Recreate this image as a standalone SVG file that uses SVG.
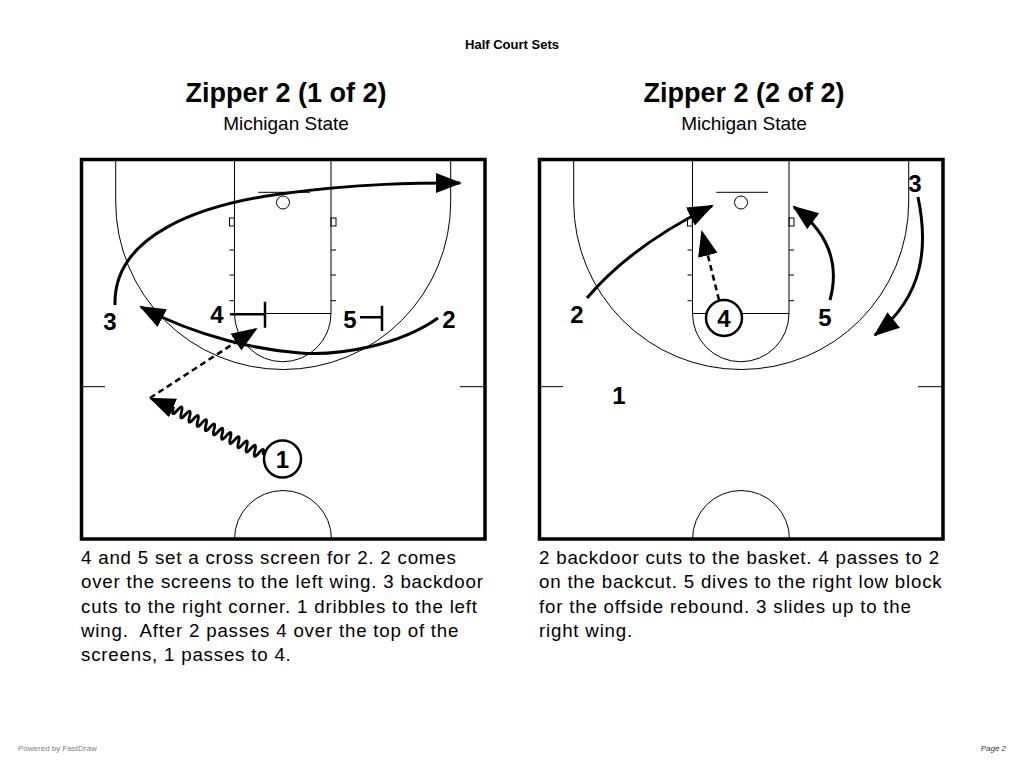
<svg xmlns="http://www.w3.org/2000/svg" xmlns:xlink="http://www.w3.org/1999/xlink" width="1024" height="768" viewBox="0 0 1024 768">
<style>
.ln{fill:none;stroke:#000;stroke-width:1}
.bd{fill:none;stroke:#000;stroke-width:3.5}
.cut{fill:none;stroke:#000;stroke-width:3;marker-end:url(#ah)}
.pass{fill:none;stroke:#000;stroke-width:2.5;stroke-dasharray:6 4;marker-end:url(#ah)}
.drib{fill:none;stroke:#000;stroke-width:2.8;marker-end:url(#ah)}
.scr{fill:none;stroke:#000;stroke-width:2.5}
.pn{font-family:"Liberation Sans",Arial,sans-serif;font-weight:bold;font-size:24px;text-anchor:middle;fill:#000}
.pc{fill:#fff;stroke:#000;stroke-width:2.5}
.title{font-family:"Liberation Sans",Arial,sans-serif;font-weight:bold;font-size:27px;text-anchor:middle}
.sub{font-family:"Liberation Sans",Arial,sans-serif;font-size:19px;text-anchor:middle}
.desc{font-family:"Liberation Sans",Arial,sans-serif;font-size:18.7px;letter-spacing:0.8px}
</style>
<defs>
<marker id="ah" markerUnits="userSpaceOnUse" markerWidth="26" markerHeight="22" viewBox="0 0 26 22" refX="24" refY="11" orient="auto">
<path d="M0,1 L26,11 L0,21 Z" fill="#000"/>
</marker>
<g id="court">
<rect class="bd" x="81.5" y="159.5" width="403.5" height="379.5"/>
<path class="ln" d="M234.5,159.5 V313.5 H331 V159.5"/>
<path class="ln" d="M234.5,313.5 A48.25,48.25 0 0 0 331,313.5"/>
<path class="ln" d="M115.7,159.5 V202 A167.5,167.5 0 0 0 450.7,202 V159.5"/>
<path class="ln" d="M258.3,192.3 H310"/>
<circle class="ln" cx="283" cy="202.5" r="6.5"/>
<rect class="ln" x="229.5" y="218" width="4.8" height="8"/>
<rect class="ln" x="331" y="218" width="5" height="8"/>
<path class="ln" d="M229.5,250 H234.5 M229.5,275 H234.5 M229.5,300.7 H234.5 M331,250 H336 M331,275 H336 M331,300.7 H336"/>
<path class="ln" d="M81.5,386.7 H105 M460,386.7 H485"/>
<path class="ln" d="M234.5,539 A48.5,48.5 0 0 1 331.5,539"/>
</g>
</defs>
<rect width="1024" height="768" fill="#fff"/>
<text x="512" y="49" font-family="Liberation Sans, Arial, sans-serif" font-weight="bold" font-size="13" text-anchor="middle">Half Court Sets</text>

<g id="diagram-1">
<text class="title" x="286" y="102">Zipper 2 (1 of 2)</text>
<text class="sub" x="286" y="130">Michigan State</text>
<use xlink:href="#court"/>
<g id="connectors-1">
<path id="cut-3" class="cut" d="M115,305 C113,235 200,205 280,194 S420,183 460,183"/>
<path id="cut-2" class="cut" d="M438,318 C400,345 340,356 300,353 S200,338 141,307"/>
<path id="pass-1-4" class="pass" d="M150,398 L256,329"/>
<path id="dribble-1" class="drib" d="M263,455 q2.59,-9.94 -4.08,-2.13 t-4.08,-2.13 t-4.08,-2.13 t-4.08,-2.13 t-4.08,-2.13 t-4.08,-2.13 t-4.08,-2.13 t-4.08,-2.13 t-4.08,-2.13 t-4.08,-2.13 t-4.08,-2.13 t-4.08,-2.13 t-4.08,-2.13 t-4.08,-2.13 t-4.08,-2.13 t-4.08,-2.13 t-4.08,-2.13 t-4.08,-2.13 t-4.08,-2.13 t-4.08,-2.13 t-4.08,-2.13 t-4.08,-2.13 L151,398.5"/>
<path id="screen-4" class="scr" d="M230,314.3 H265 M265,301.7 V327.7"/>
<path id="screen-5" class="scr" d="M360,317.3 H382 M382,305.7 V331"/>
</g>
<g id="p1-3"><text class="pn" x="110" y="330">3</text></g>
<g id="p1-4"><text class="pn" x="217" y="323">4</text></g>
<g id="p1-5"><text class="pn" x="350" y="328">5</text></g>
<g id="p1-2"><text class="pn" x="449" y="328">2</text></g>
<g id="p1-1"><circle class="pc" cx="282.5" cy="459" r="18.5"/><text class="pn" x="282.5" y="468">1</text></g>
<text class="desc" x="81" y="564">4 and 5 set a cross screen for 2. 2 comes</text>
<text class="desc" x="81" y="588">over the screens to the left wing. 3 backdoor</text>
<text class="desc" x="81" y="613">cuts to the right corner. 1 dribbles to the left</text>
<text class="desc" x="81" y="637">wing.&#160; After 2 passes 4 over the top of the</text>
<text class="desc" x="81" y="661">screens, 1 passes to 4.</text>
</g>

<g id="diagram-2">
<text class="title" x="744" y="102">Zipper 2 (2 of 2)</text>
<text class="sub" x="744" y="130">Michigan State</text>
<use xlink:href="#court" transform="translate(458,0)"/>
<g id="connectors-2">
<path id="cut2-2" class="cut" d="M587,298 Q632,245 712,206"/>
<path id="pass2-4-2" class="pass" d="M719,300 L702,232"/>
<path id="cut2-5" class="cut" d="M830,300 Q845,245 794,207"/>
<path id="cut2-3" class="cut" d="M918,197 C928,245 925,295 875,335"/>
</g>
<g id="p2-3"><text class="pn" x="915" y="192">3</text></g>
<g id="p2-2"><text class="pn" x="577" y="323">2</text></g>
<g id="p2-4"><circle class="pc" cx="724" cy="318" r="18"/><text class="pn" x="724" y="327">4</text></g>
<g id="p2-5"><text class="pn" x="825" y="326">5</text></g>
<g id="p2-1"><text class="pn" x="619" y="404">1</text></g>
<text class="desc" x="539" y="564">2 backdoor cuts to the basket. 4 passes to 2</text>
<text class="desc" x="539" y="588">on the backcut. 5 dives to the right low block</text>
<text class="desc" x="539" y="613">for the offside rebound. 3 slides up to the</text>
<text class="desc" x="539" y="637">right wing.</text>
</g>

<text x="18" y="751" font-family="Liberation Sans, Arial, sans-serif" font-size="8" fill="#808080">Powered by FastDraw</text>
<text x="1006" y="751" font-family="Liberation Sans, Arial, sans-serif" font-size="8" font-style="italic" text-anchor="end" fill="#333">Page 2</text>
</svg>
